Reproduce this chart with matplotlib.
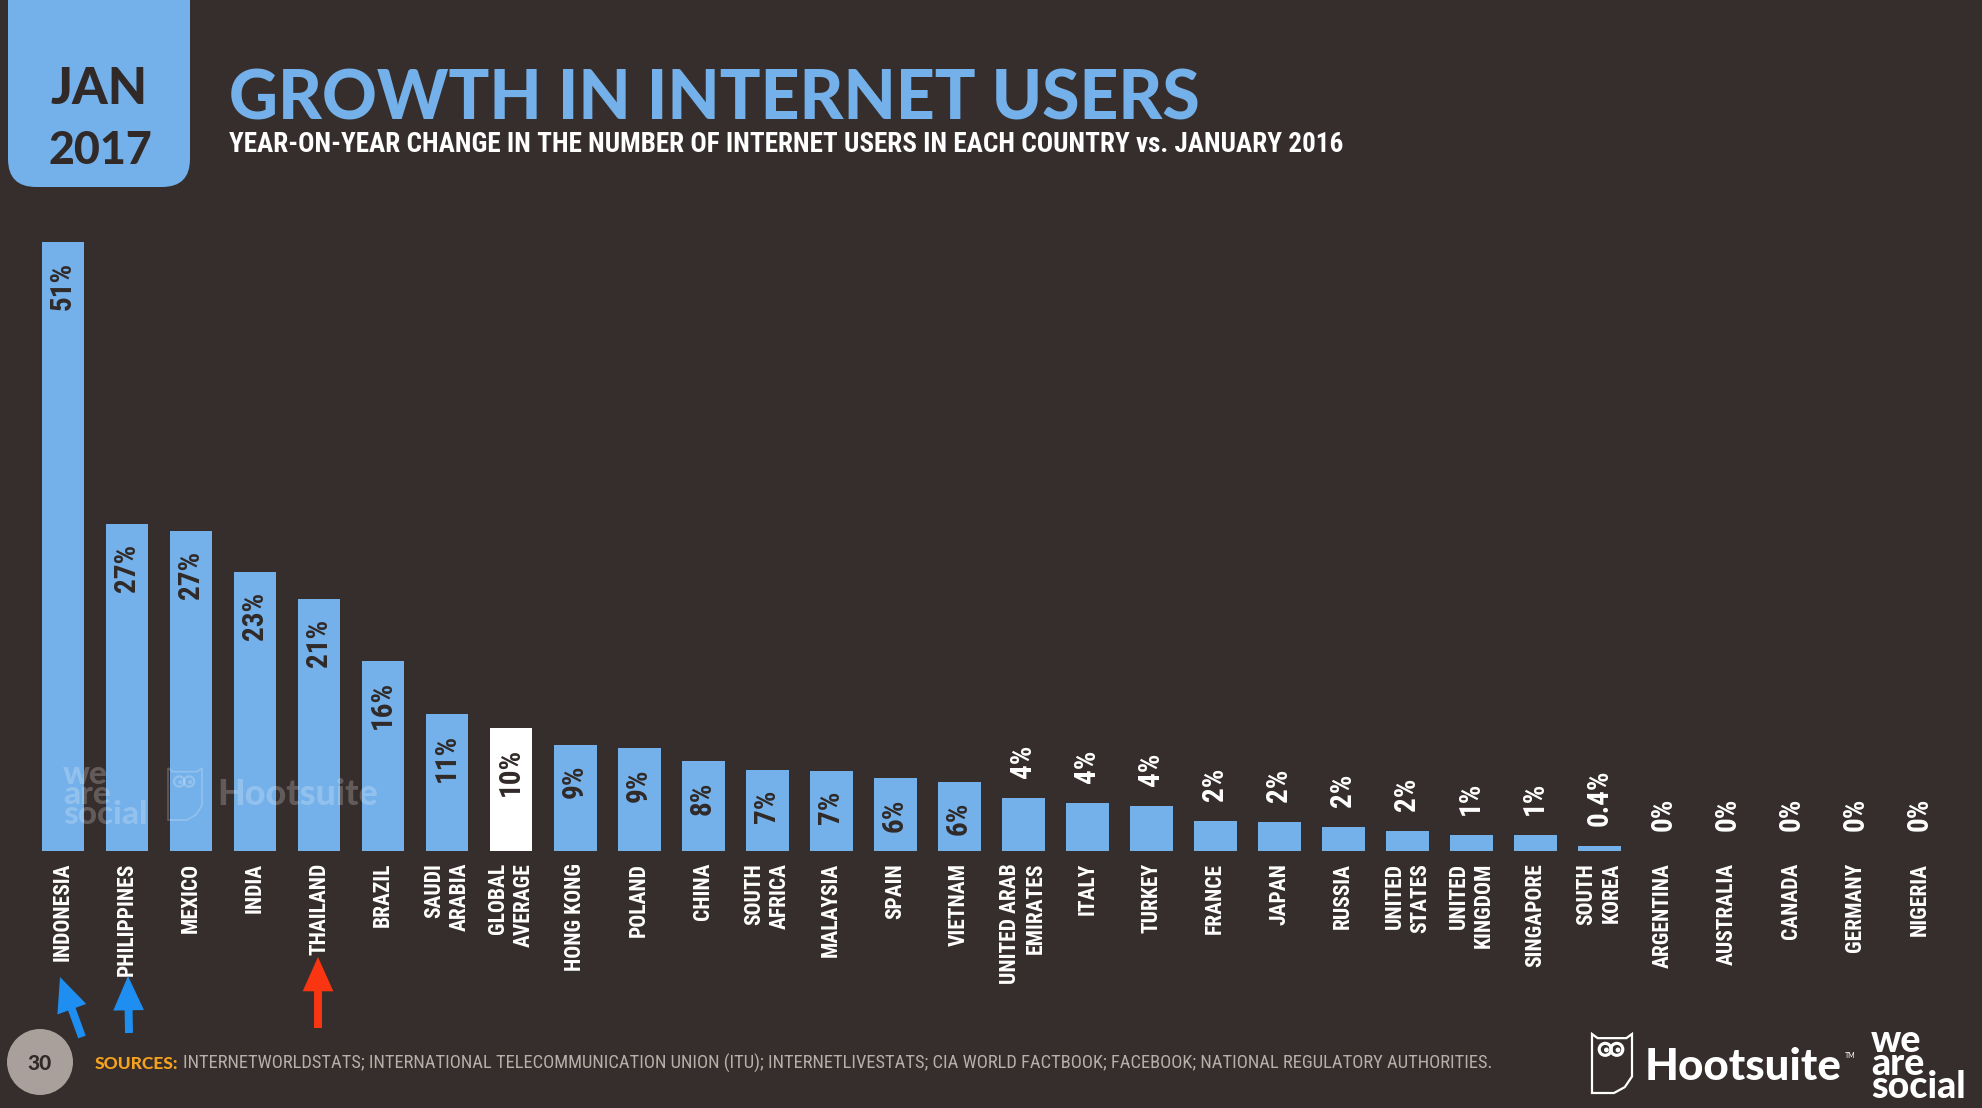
import matplotlib.pyplot as plt
from matplotlib import font_manager
from matplotlib.patches import FancyBboxPatch, Circle, FancyArrowPatch, Polygon

W, H, DPI = 1982, 1108, 100

BG = "#362e2c"
BLUE = "#74b0e9"
DARK = "#302927"
WHITE = "#ffffff"
ORANGE = "#f5a21f"
GREY = "#b9afaa"

countries = [
    "INDONESIA", "PHILIPPINES", "MEXICO", "INDIA", "THAILAND", "BRAZIL",
    "SAUDI\nARABIA", "GLOBAL\nAVERAGE", "HONG KONG", "POLAND", "CHINA",
    "SOUTH\nAFRICA", "MALAYSIA", "SPAIN", "VIETNAM", "UNITED ARAB\nEMIRATES",
    "ITALY", "TURKEY", "FRANCE", "JAPAN", "RUSSIA", "UNITED\nSTATES",
    "UNITED\nKINGDOM", "SINGAPORE", "SOUTH\nKOREA", "ARGENTINA", "AUSTRALIA",
    "CANADA", "GERMANY", "NIGERIA",
]
growth = [
    51.0, 27.4, 26.8, 23.4, 21.1, 15.9, 11.5, 10.3, 8.9, 8.6, 7.5, 6.8, 6.7,
    6.1, 5.8, 4.4, 4.0, 3.8, 2.5, 2.4, 2.0, 1.7, 1.3, 1.3, 0.4, 0, 0, 0, 0, 0,
]
growth_labels = [
    "51%", "27%", "27%", "23%", "21%", "16%", "11%", "10%", "9%", "9%", "8%",
    "7%", "7%", "6%", "6%", "4%", "4%", "4%", "2%", "2%", "2%", "2%", "1%",
    "1%", "0.4%", "0%", "0%", "0%", "0%", "0%",
]
highlight = "GLOBAL\nAVERAGE"

title = "GROWTH IN INTERNET USERS"
subtitle = ("YEAR-ON-YEAR CHANGE IN THE NUMBER OF INTERNET USERS IN EACH "
            "COUNTRY vs. JANUARY 2016")
sources = ("INTERNETWORLDSTATS; INTERNATIONAL TELECOMMUNICATION UNION (ITU); "
           "INTERNETLIVESTATS; CIA WORLD FACTBOOK; FACEBOOK; NATIONAL "
           "REGULATORY AUTHORITIES.")

installed = {f.name for f in font_manager.fontManager.ttflist}


def pick(*names):
    for n in names:
        if n in installed:
            return n
    return "DejaVu Sans"


HEAVY = pick("Lato", "Inter", "Roboto")
NARROW = pick("Liberation Sans Narrow", "Roboto Condensed", "DejaVu Sans")

fig = plt.figure(figsize=(W / DPI, H / DPI), dpi=DPI, facecolor=BG)
renderer = fig.canvas.get_renderer()


def fit(t, width):
    bb = t.get_window_extent(renderer)
    t.set_fontsize(t.get_fontsize() * width / bb.width)
    return t


# chart area: baseline at 851 px, the 51% bar reaches 242 px
base_y, top_y = 851, 180
ax = fig.add_axes([0, 1 - base_y / H, 1, (base_y - top_y) / H])
ax.set_xlim(-0.984, 29.98)
ax.set_ylim(0, 51 * (base_y - top_y) / (base_y - 242))
ax.axis("off")

x = list(range(len(countries)))
colors = [WHITE if c == highlight else BLUE for c in countries]
ax.bar(x, growth, width=0.67, color=colors, zorder=2)

for i, (c, v, lab) in enumerate(zip(countries, growth, growth_labels)):
    if v >= 5:
        ax.annotate(lab, (i, v), xytext=(0, -14.4), textcoords="offset points",
                    rotation=90, ha="center", va="top", color=DARK,
                    fontsize=21, family=NARROW, fontweight="bold", zorder=3)
    else:
        ax.annotate(lab, (i, v), xytext=(0, 14.4), textcoords="offset points",
                    rotation=90, ha="center", va="bottom", color=WHITE,
                    fontsize=21, family=NARROW, fontweight="bold", zorder=3)
    ax.annotate(c, (i, 0), xytext=(0, -8.6), textcoords="offset points",
                rotation=90, ha="center", va="top", multialignment="right",
                color=WHITE, fontsize=15.5, family=NARROW, fontweight="bold",
                linespacing=1.2)

# overlay in pixel coordinates (y down) for the slide decoration
ov = fig.add_axes([0, 0, 1, 1], zorder=3)
ov.set_xlim(0, W)
ov.set_ylim(H, 0)
ov.axis("off")


def owl(x0, y0, w, h, color, alpha=1.0, lw=1.5):
    pts = [(0, 0), (0.14, 0.07), (0.86, 0.07), (1, 0), (1, 0.72),
           (0.82, 0.9), (0.55, 1.0), (0, 1.0)]
    ov.add_patch(Polygon([(x0 + a * w, y0 + b * h) for a, b in pts],
                         closed=True, fc="none", ec=color, lw=lw, alpha=alpha))
    for ex in (0.33, 0.62):
        ov.add_patch(Circle((x0 + ex * w, y0 + 0.26 * h), 0.15 * w,
                            fc="none", ec=color, lw=lw * 1.4, alpha=alpha))
        ov.add_patch(Circle((x0 + (ex + 0.03) * w, y0 + 0.27 * h), 0.06 * w,
                            fc=color, ec="none", alpha=alpha))


# header
ov.add_patch(FancyBboxPatch((8, -60), 182, 247,
                            boxstyle="round,pad=0,rounding_size=28",
                            fc=BLUE, ec="none"))
t = ov.text(99, 104, "JAN", ha="center", va="baseline", color=DARK,
            family=HEAVY, fontweight="black", fontsize=36)
fit(t, 97)
t = ov.text(100, 164, "2017", ha="center", va="baseline", color=DARK,
            family=HEAVY, fontweight="black", fontsize=36)
fit(t, 104)
t = ov.text(229, 120, title, ha="left", va="baseline", color=BLUE,
            family=HEAVY, fontweight="black", fontsize=50)
fit(t, 972)
t = ov.text(229, 152, subtitle, ha="left", va="baseline", color=WHITE,
            family=NARROW, fontweight="bold", fontsize=20)
fit(t, 1117)

# arrows under the highlighted countries
arrows = [((82, 1037), (60, 977), "#1f8ef1"),
          ((129, 1033), (128, 976), "#1f8ef1"),
          ((318, 1028), (318, 957), "#fa3512")]
for tail, head, col in arrows:
    ov.add_patch(FancyArrowPatch(
        tail, head, shrinkA=0, shrinkB=0, mutation_scale=26, color=col, lw=0,
        arrowstyle="simple,head_length=0.95,head_width=0.85,tail_width=0.22"))

# watermarks on the bars
ov.text(63, 760, "we\nare\nsocial", ha="left", va="top", color=WHITE,
        alpha=0.22, family=HEAVY, fontweight="black", fontsize=24,
        linespacing=0.62)
owl(168, 768, 34, 52, WHITE, alpha=0.22, lw=1.2)
t = ov.text(217, 805, "Hootsuite", ha="left", va="baseline", color=WHITE,
            alpha=0.22, family=HEAVY, fontweight="black", fontsize=30)
fit(t, 160)

# footer
ov.add_patch(Circle((40, 1062), 33, fc="#aaa09b", ec="none"))
ov.text(40, 1063, "30", ha="center", va="center", color=DARK,
        family=HEAVY, fontweight="black", fontsize=15)
t = ov.text(95, 1069, "SOURCES:", ha="left", va="baseline", color=ORANGE,
            family=HEAVY, fontweight="black", fontsize=12)
fit(t, 83)
t = ov.text(183, 1069, sources, ha="left", va="baseline", color=GREY,
            family=NARROW, fontsize=12)
fit(t, 1309)

owl(1592, 1034, 40, 59, WHITE, lw=1.6)
t = ov.text(1645, 1080, "Hootsuite", ha="left", va="baseline", color=WHITE,
            family=HEAVY, fontweight="black", fontsize=30)
fit(t, 196)
ov.text(1845, 1058, "TM", ha="left", va="baseline", color=WHITE,
        family=HEAVY, fontsize=5)
ov.text(1871, 1024, "we\nare\nsocial", ha="left", va="top", color=WHITE,
        family=HEAVY, fontweight="black", fontsize=27, linespacing=0.6)

fig.savefig("out.png", dpi=DPI, facecolor=BG)
